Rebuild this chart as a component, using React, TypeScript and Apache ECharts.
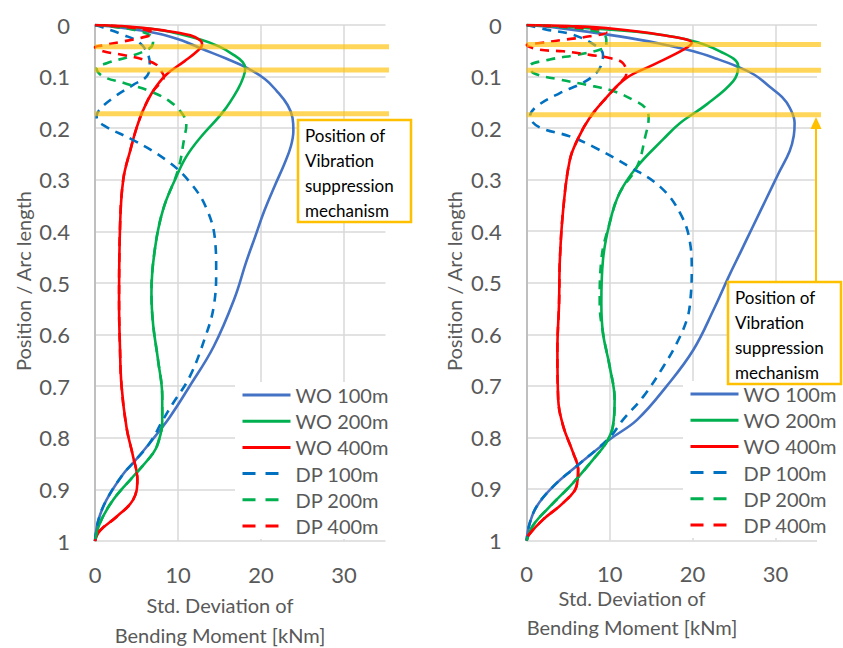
import React, { useEffect, useRef } from "react";
import * as echarts from "echarts";

// ---------- Data: [std. deviation (kNm), position / arc length] ----------
const SERIES_NAMES = ["WO 100m", "WO 200m", "WO 400m", "DP 100m", "DP 200m", "DP 400m"];
const COLORS = ["#4472C4", "#00B050", "#FF0000", "#0070C0", "#00B050", "#FF0000"];
const X_TICKS = [0, 10, 20, 30];

// Left panel
const L_WO100: number[][] = [[0,0],[3,0.005],[7.4,0.016],[10.5,0.03],[12.7,0.045],[15.8,0.065],[18.3,0.083],[20.5,0.105],[21.9,0.128],[23.2,0.155],[23.8,0.18],[23.9,0.205],[23.6,0.235],[22.8,0.27],[21.7,0.31],[20.4,0.36],[19.3,0.41],[18.2,0.46],[16.8,0.53],[14.3,0.623],[11.4,0.70],[9.0,0.76],[6.6,0.81],[4.8,0.845],[3.4,0.87],[1.4,0.92],[0.4,0.96],[0,1]];
const L_WO200: number[][] = [[0,0],[4,0.004],[8,0.01],[12.7,0.028],[15,0.042],[16.7,0.058],[17.8,0.072],[18.1,0.085],[17.9,0.1],[17.2,0.125],[15.5,0.167],[12.7,0.218],[11,0.255],[9.8,0.294],[8.2,0.358],[7.2,0.436],[6.8,0.52],[7.0,0.58],[7.6,0.65],[8.1,0.72],[8.1,0.77],[7.6,0.81],[7.0,0.83],[4.6,0.875],[2.2,0.92],[0.6,0.965],[0,1]];
const L_WO400: number[][] = [[0,0],[4,0.003],[8,0.01],[11.5,0.02],[12.7,0.03],[12.9,0.038],[12.3,0.051],[10.8,0.07],[8.6,0.096],[7.0,0.128],[5.8,0.165],[5.0,0.2],[4.3,0.24],[3.4,0.30],[3.0,0.40],[2.9,0.54],[3.0,0.62],[3.2,0.70],[3.8,0.78],[4.6,0.837],[5.1,0.88],[4.6,0.92],[2.6,0.953],[0.6,0.98],[0,1]];
const L_DP100: number[][] = [[0,0],[1,0.005],[3.4,0.019],[5.4,0.035],[6.4,0.058],[6.6,0.078],[6.2,0.1],[4.6,0.116],[2.2,0.141],[0.5,0.165],[0.2,0.178],[1.0,0.194],[4.6,0.223],[8.6,0.262],[11.4,0.304],[13.5,0.358],[14.5,0.423],[14.6,0.475],[14.3,0.546],[13.3,0.604],[11.4,0.682],[9.4,0.733],[8.2,0.765],[6.6,0.81],[4.8,0.845],[3.4,0.87],[1.4,0.92],[0.4,0.96],[0,1]];
const L_DP200: number[][] = [[0,0],[2,0.003],[5.4,0.012],[6.8,0.022],[7.0,0.033],[6.6,0.045],[4.2,0.061],[1.4,0.074],[0.2,0.085],[1.0,0.1],[3.4,0.112],[6.6,0.128],[9.0,0.148],[10.6,0.174],[11.0,0.195],[10.8,0.215],[10.0,0.281],[8.2,0.358],[7.2,0.436],[6.8,0.52],[7.0,0.58],[7.6,0.65],[8.1,0.72],[8.1,0.77],[7.6,0.81],[7.0,0.83],[4.6,0.875],[2.2,0.92],[0.6,0.965],[0,1]];
const L_DP400: number[][] = [[0,0],[3,0.003],[6,0.009],[7,0.016],[5.5,0.025],[3,0.033],[0.8,0.04],[0,0.043],[1.0,0.051],[3.4,0.058],[5.8,0.067],[7.4,0.077],[8.0,0.09],[8.3,0.1],[8.0,0.11],[7.0,0.128],[5.8,0.165],[5.0,0.2],[4.3,0.24],[3.4,0.30],[3.0,0.40],[2.9,0.54],[3.0,0.62],[3.2,0.70],[3.8,0.78],[4.6,0.837],[5.1,0.88],[4.6,0.92],[2.6,0.953],[0.6,0.98],[0,1]];

// Right panel
const R_WO100: number[][] = [[0,0],[4,0.006],[11.2,0.022],[16,0.036],[20.1,0.051],[23,0.066],[25.3,0.08],[27.5,0.097],[29.3,0.12],[30.8,0.14],[31.7,0.16],[32.3,0.19],[32.2,0.215],[31.7,0.245],[30.3,0.29],[28.8,0.34],[27.3,0.39],[25.8,0.44],[24.3,0.49],[22.6,0.55],[20.1,0.63],[16.9,0.70],[13.3,0.766],[10.0,0.804],[6.0,0.856],[3.2,0.895],[1.2,0.934],[0.3,0.97],[0,1]];
const R_WO200: number[][] = [[0,0],[5,0.004],[12.5,0.012],[19.3,0.028],[23.3,0.051],[25.5,0.08],[24.9,0.109],[21.7,0.154],[18.5,0.19],[16.5,0.221],[13.3,0.275],[11.2,0.326],[10.0,0.384],[9.2,0.455],[9.0,0.54],[9.2,0.598],[10.0,0.662],[10.6,0.727],[10.4,0.778],[9.6,0.81],[8.0,0.843],[5.6,0.888],[2.8,0.934],[0.8,0.97],[0,1]];
const R_WO400: number[][] = [[0,0],[5,0.002],[9.6,0.006],[16.1,0.019],[19.9,0.035],[18.9,0.048],[15.3,0.077],[12.0,0.103],[9.6,0.141],[7.6,0.18],[6.2,0.22],[5.2,0.262],[4.4,0.358],[4.0,0.455],[3.9,0.54],[3.7,0.63],[3.8,0.727],[4.4,0.778],[5.6,0.83],[6.2,0.862],[6.0,0.895],[4.4,0.927],[2.0,0.959],[0.2,0.99],[0,1]];
const R_DP100: number[][] = [[0,0],[2.4,0.009],[5.6,0.019],[8.4,0.041],[9.2,0.058],[9.0,0.077],[8.4,0.093],[6.8,0.112],[4.0,0.132],[1.2,0.158],[0.4,0.177],[1.5,0.198],[5.2,0.216],[8.0,0.236],[12.4,0.275],[16.1,0.314],[18.5,0.365],[19.7,0.423],[19.9,0.475],[19.7,0.539],[19.3,0.572],[18.1,0.617],[16.5,0.662],[14.1,0.72],[11.6,0.766],[10.0,0.8],[6.0,0.856],[3.2,0.895],[1.2,0.934],[0.3,0.97],[0,1]];
const R_DP200: number[][] = [[0,0],[4,0.004],[8.8,0.014],[9.6,0.028],[9.6,0.041],[8.8,0.048],[6.0,0.058],[2.8,0.067],[0.4,0.08],[0.8,0.093],[4.0,0.106],[7.2,0.116],[10.4,0.128],[12.8,0.145],[14.3,0.161],[14.7,0.18],[14.3,0.216],[13.3,0.275],[11.2,0.326],[10.0,0.384],[9.0,0.455],[8.8,0.54],[9.2,0.598],[10.0,0.662],[10.6,0.727],[10.4,0.778],[9.6,0.81],[8.0,0.843],[5.6,0.888],[2.8,0.934],[0.8,0.97],[0,1]];
const R_DP400: number[][] = [[0,0],[5,0.004],[9,0.009],[9.6,0.014],[7.6,0.022],[4.8,0.028],[1.6,0.035],[0,0.039],[1.6,0.048],[4.4,0.051],[7.6,0.058],[10.0,0.064],[11.6,0.074],[12.0,0.096],[11.6,0.106],[9.6,0.141],[7.6,0.18],[6.2,0.22],[5.2,0.262],[4.4,0.358],[4.0,0.455],[3.9,0.54],[3.7,0.63],[3.8,0.727],[4.4,0.778],[5.6,0.83],[6.2,0.862],[6.0,0.895],[4.4,0.927],[2.0,0.959],[0.2,0.99],[0,1]];

// Positions of vibration suppression mechanisms (position / arc length)
const MECH_LEFT = [0.042, 0.087, 0.172];
const MECH_RIGHT = [0.038, 0.088, 0.174];

const LEFT_DATA = [L_WO100, L_WO200, L_WO400, L_DP100, L_DP200, L_DP400];
const RIGHT_DATA = [R_WO100, R_WO200, R_WO400, R_DP100, R_DP200, R_DP400];

const FONT = "Lato, 'Open Sans', sans-serif";
const GRAY = "#595959";
const DASH = [9, 7];

function buildSeries(datasets: number[][][], gridIdx: number, mech: number[]) {
  const out: any[] = [];
  datasets.forEach((d, i) => {
    const dashed = i >= 3;
    out.push({
      type: "line",
      name: SERIES_NAMES[i],
      xAxisIndex: gridIdx,
      yAxisIndex: gridIdx,
      data: d,
      smooth: 0.4,
      symbol: "none",
      z: dashed ? 3 : 2,
      lineStyle: { color: COLORS[i], width: 2.6, type: dashed ? DASH : "solid" },
      itemStyle: { color: COLORS[i] },
    });
  });
  mech.forEach((p) => {
    out.push({
      type: "line",
      name: "mechanism",
      xAxisIndex: gridIdx,
      yAxisIndex: gridIdx,
      data: [[0, p], [36.3, p]],
      symbol: "none",
      clip: false,
      silent: true,
      z: 5,
      lineStyle: { color: "rgba(255,192,0,0.65)", width: 5 },
    });
  });
  return out;
}

function axesFor(gridIdx: number) {
  const x = {
    type: "value",
    gridIndex: gridIdx,
    min: X_TICKS[0],
    max: 35,
    interval: X_TICKS[1] - X_TICKS[0],
    axisLine: { show: false, onZero: false },
    axisTick: { show: false },
    axisLabel: { color: GRAY, fontSize: 22, fontFamily: FONT, margin: 22, showMaxLabel: false },
    splitLine: { show: true, showMaxLine: false, lineStyle: { color: "#D9D9D9", width: 1.5 } },
  };
  const y = {
    type: "value",
    gridIndex: gridIdx,
    inverse: true,
    min: 0,
    max: 1,
    interval: 0.1,
    axisLine: { show: true, onZero: false, lineStyle: { color: "#BFBFBF", width: 2 } },
    axisTick: { show: false },
    axisLabel: { color: GRAY, fontSize: 22, fontFamily: FONT, margin: 25 },
    splitLine: { show: true, lineStyle: { color: "#D9D9D9", width: 1.5 } },
  };
  return { x, y };
}

function legendFor(left: number, top: number) {
  return {
    orient: "vertical",
    left,
    top,
    backgroundColor: "#ffffff",
    padding: [3, 2, 3, 6],
    itemWidth: 48,
    itemHeight: 14,
    itemGap: 6.2,
    selectedMode: false,
    itemStyle: { opacity: 0 },
    textStyle: { color: GRAY, fontSize: 20, fontFamily: FONT, lineHeight: 20 },
    data: SERIES_NAMES.map((n, i) =>
      i >= 3
        ? { name: n, itemStyle: { opacity: 0 }, lineStyle: { type: [13, 10, 13, 40], width: 3 } }
        : { name: n, itemStyle: { opacity: 0 }, lineStyle: { width: 3 } }
    ),
  };
}

function annotation(x: number, y: number, w: number, h: number) {
  return [
    {
      type: "rect",
      z: 100,
      shape: { x, y, width: w, height: h },
      style: { fill: "#ffffff", stroke: "#FFC000", lineWidth: 2.5 },
    },
    {
      type: "text",
      z: 101,
      x: x + 7,
      y: y + 3,
      style: {
        text: "Position of\nVibration\nsuppression\nmechanism",
        font: `17px ${FONT}`,
        fill: "#000000",
        lineHeight: 25,
        textAlign: "left",
        textVerticalAlign: "top",
      },
    },
  ];
}

function axisTitles(cx: number, yTitleX: number, l1: number, l2: number) {
  const base = { fill: GRAY, font: `20px ${FONT}`, textAlign: "center", textVerticalAlign: "middle" };
  return [
    { type: "text", z: 50, x: yTitleX, y: 281, rotation: Math.PI / 2, style: { ...base, text: "Position / Arc length" } },
    { type: "text", z: 50, x: cx, y: l1, style: { ...base, text: "Std. Deviation of" } },
    { type: "text", z: 50, x: cx, y: l2, style: { ...base, text: "Bending Moment [kNm]" } },
  ];
}

export default function App() {
  const ref = useRef<HTMLDivElement>(null);
  useEffect(() => {
    if (!ref.current) return;
    const chart = echarts.init(ref.current, undefined, { renderer: "svg" });
    const a0 = axesFor(0);
    const a1 = axesFor(1);
    chart.setOption({
      animation: false,
      backgroundColor: "#ffffff",
      textStyle: { fontFamily: FONT },
      grid: [
        { left: 95, top: 25, width: 290.5, height: 516 },
        { left: 526.7, top: 25, width: 290.3, height: 515.5 },
      ],
      xAxis: [a0.x, a1.x],
      yAxis: [a0.y, a1.y],
      legend: [legendFor(235, 382), legendFor(683, 381)],
      series: [...buildSeries(LEFT_DATA, 0, MECH_LEFT), ...buildSeries(RIGHT_DATA, 1, MECH_RIGHT)],
      graphic: [
        ...axisTitles(220, 23, 605, 635),
        ...axisTitles(632, 454, 598, 627),
        ...annotation(298, 120, 113, 102),
        ...annotation(728, 282, 113, 102),
        {
          type: "line",
          z: 99,
          shape: { x1: 816, y1: 282, x2: 816, y2: 127 },
          style: { stroke: "#FFC000", lineWidth: 2 },
        },
        {
          type: "polygon",
          z: 99,
          shape: { points: [[816, 117], [810.5, 129], [821.5, 129]] },
          style: { fill: "#FFC000" },
        },
      ],
    });
    return () => chart.dispose();
  }, []);
  return (
    <div
      ref={ref}
      style={{ position: "fixed", left: 0, top: 0, width: 843, height: 648, background: "#fff" }}
    />
  );
}
